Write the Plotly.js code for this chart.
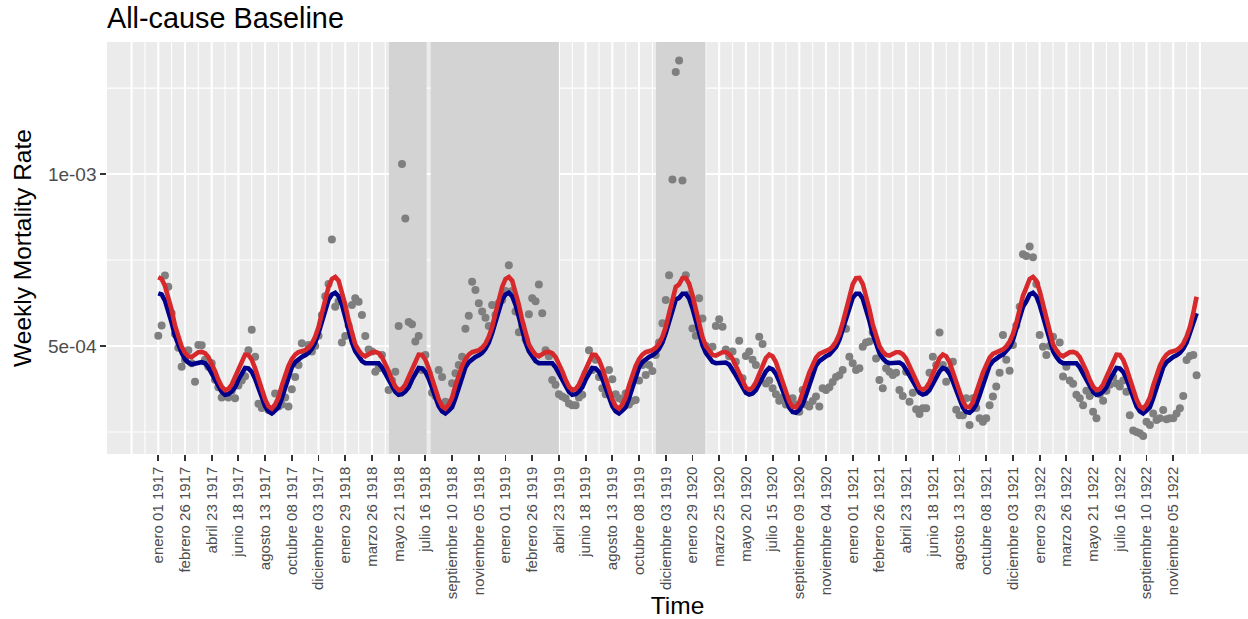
<!DOCTYPE html>
<html>
<head>
<meta charset="utf-8">
<script src="https://cdn.plot.ly/plotly-3.0.1.min.js"></script>
<style>
  html, body { margin: 0; padding: 0; background: #ffffff; }
  #chart { width: 1248px; height: 619px; }
</style>
</head>
<body>
<div id="chart"></div>
<script>
// ---- Data (weekly mortality rate, in units of 1e-4) ----
const UNIT = 1e-4;

// observed weekly rates (grey points), 52 weeks per year
const obs1917 = [5.3, 5.6, 7.05, 6.72, 5.95, 5.35, 4.95, 4.4, 4.6, 4.88, 4.5, 3.96, 5.03, 5.02, 4.6, 4.4, 4.5, 4.02, 3.8, 3.5, 3.55, 3.5, 3.7, 3.48, 3.85, 4.0, 4.12, 4.88, 5.47, 4.69, 3.32, 3.2, 3.25, 3.14, 3.1, 3.62, 3.24, 3.3, 3.5, 3.24, 3.74, 4.1, 4.45, 5.08, 4.8, 5.03, 4.84, 5.0, 5.3, 5.9, 6.45, 6.8];
const obs1918 = [8.1, 6.14, 6.3, 5.1, 5.29, 5.6, 6.19, 6.39, 6.29, 5.9, 5.29, 4.9, 4.84, 4.25, 4.35, 4.74, 4.3, 3.72, 4.0, 4.25, 5.58, 10.29, 8.71, 5.7, 5.63, 5.13, 5.29, 4.3, 4.74, 4.2, 3.64, 3.55, 4.3, 4.1, 3.38, 3.3, 3.92, 4.21, 4.45, 4.69, 5.5, 5.88, 6.87, 6.63, 6.24, 6.0, 5.82, 5.58, 6.19, 5.9, 6.25, 6.34];
const obs1919 = [6.6, 7.35, 6.6, 6.0, 5.4, 5.58, 5.2, 5.92, 6.39, 6.3, 6.79, 5.95, 4.88, 4.7, 4.01, 3.87, 3.6, 3.53, 3.48, 3.33, 3.28, 3.28, 3.5, 3.58, 4.2, 4.88, 4.3, 4.6, 4.1, 3.77, 3.6, 4.3, 4.03, 3.6, 3.48, 3.43, 3.62, 3.3, 3.4, 3.43, 4.0, 4.45, 4.16, 4.45, 4.27, 4.74, 5.1, 5.66, 6.34, 7.06, 9.84, 12.97];
const obs1920 = [13.3, 9.81, 7.06, 6.5, 5.51, 5.3, 6.39, 5.8, 5.0, 4.8, 4.98, 5.58, 5.78, 5.56, 4.9, 4.7, 4.84, 4.54, 5.15, 4.06, 4.71, 4.84, 4.6, 4.45, 5.27, 5.06, 3.91, 4.0, 3.77, 3.6, 3.41, 3.5, 3.3, 3.45, 3.48, 3.3, 3.09, 3.72, 3.3, 3.24, 3.4, 3.53, 3.24, 3.77, 3.72, 3.8, 3.95, 4.1, 4.15, 4.3, 5.5, 4.69];
const obs1921 = [4.5, 4.3, 4.35, 4.98, 5.1, 5.13, 5.4, 4.64, 4.01, 3.77, 4.35, 4.25, 4.16, 4.22, 3.72, 3.55, 4.25, 3.38, 3.64, 3.16, 3.02, 3.19, 3.19, 4.22, 4.69, 4.45, 5.39, 4.45, 3.96, 4.3, 4.54, 3.15, 2.99, 2.99, 3.48, 2.7, 3.48, 3.2, 2.9, 2.8, 2.9, 3.28, 3.53, 3.82, 4.22, 5.32, 4.6, 4.28, 5.03, 5.6, 6.14, 7.67];
const obs1922 = [7.62, 7.89, 7.58, 6.8, 5.32, 4.98, 4.74, 5.0, 5.27, 4.8, 5.1, 4.11, 4.4, 4.0, 3.9, 3.58, 3.48, 3.28, 3.7, 3.55, 3.09, 2.9, 3.6, 3.41, 3.7, 3.87, 4.1, 3.91, 3.82, 4.0, 3.67, 2.99, 2.54, 2.5, 2.46, 2.38, 2.8, 2.7, 3.04, 2.85, 2.9, 3.14, 2.87, 2.9, 2.9, 3.04, 3.19, 3.55, 4.59, 4.71, 4.74, 4.15];

// seasonal baseline (dark blue line)
const base1917 = [6.53, 6.5, 6.32, 6.02, 5.68, 5.3, 5.02, 4.8, 4.62, 4.52, 4.47, 4.48, 4.52, 4.53, 4.5, 4.38, 4.2, 4.03, 3.85, 3.67, 3.58, 3.6, 3.68, 3.8, 4.02, 4.22, 4.36, 4.35, 4.25, 4.05, 3.78, 3.5, 3.25, 3.1, 3.04, 3.12, 3.22, 3.48, 3.78, 4.1, 4.38, 4.53, 4.62, 4.68, 4.73, 4.8, 4.92, 5.1, 5.38, 5.72, 6.05, 6.35];
const base1918 = [6.5, 6.55, 6.45, 6.2, 5.85, 5.45, 5.1, 4.85, 4.68, 4.56, 4.5, 4.5, 4.52, 4.53, 4.5, 4.38, 4.2, 4.03, 3.85, 3.67, 3.58, 3.6, 3.68, 3.8, 4.02, 4.22, 4.36, 4.35, 4.25, 4.05, 3.78, 3.5, 3.25, 3.1, 3.04, 3.12, 3.22, 3.48, 3.78, 4.1, 4.38, 4.53, 4.62, 4.68, 4.73, 4.8, 4.92, 5.1, 5.38, 5.72, 6.05, 6.35];
const base1919 = [6.5, 6.55, 6.45, 6.2, 5.85, 5.45, 5.1, 4.85, 4.68, 4.56, 4.5, 4.5, 4.52, 4.53, 4.5, 4.38, 4.2, 4.03, 3.85, 3.67, 3.58, 3.6, 3.68, 3.8, 4.02, 4.22, 4.36, 4.35, 4.25, 4.05, 3.78, 3.5, 3.25, 3.1, 3.04, 3.12, 3.22, 3.48, 3.78, 4.1, 4.38, 4.53, 4.62, 4.68, 4.73, 4.8, 4.92, 5.1, 5.38, 5.72, 6.05, 6.35];
const base1920 = [6.4, 6.52, 6.52, 6.38, 6.1, 5.73, 5.35, 5.03, 4.8, 4.64, 4.54, 4.5, 4.51, 4.52, 4.52, 4.46, 4.33, 4.15, 3.98, 3.8, 3.64, 3.59, 3.62, 3.72, 3.87, 4.08, 4.26, 4.36, 4.32, 4.19, 3.97, 3.7, 3.43, 3.21, 3.08, 3.06, 3.15, 3.3, 3.57, 3.88, 4.18, 4.43, 4.56, 4.64, 4.7, 4.75, 4.84, 4.97, 5.18, 5.48, 5.82, 6.14];
const base1921 = [6.4, 6.52, 6.52, 6.38, 6.1, 5.73, 5.35, 5.03, 4.8, 4.64, 4.54, 4.5, 4.51, 4.52, 4.52, 4.46, 4.33, 4.15, 3.98, 3.8, 3.64, 3.59, 3.62, 3.72, 3.87, 4.08, 4.26, 4.36, 4.32, 4.19, 3.97, 3.7, 3.43, 3.21, 3.08, 3.06, 3.15, 3.3, 3.57, 3.88, 4.18, 4.43, 4.56, 4.64, 4.7, 4.75, 4.84, 4.97, 5.18, 5.48, 5.82, 6.14];
const base1922 = [6.3, 6.5, 6.55, 6.45, 6.2, 5.85, 5.45, 5.1, 4.85, 4.68, 4.56, 4.5, 4.5, 4.52, 4.53, 4.5, 4.38, 4.2, 4.03, 3.85, 3.67, 3.58, 3.6, 3.68, 3.8, 4.02, 4.22, 4.36, 4.35, 4.25, 4.05, 3.78, 3.5, 3.25, 3.1, 3.04, 3.12, 3.22, 3.48, 3.78, 4.1, 4.38, 4.53, 4.62, 4.68, 4.73, 4.8, 4.92, 5.1, 5.38, 5.68, 5.95];

// upper threshold (red line)
const upper1917 = [7.0, 6.95, 6.75, 6.45, 6.05, 5.6, 5.25, 4.98, 4.8, 4.7, 4.68, 4.74, 4.82, 4.83, 4.79, 4.68, 4.5, 4.27, 4.02, 3.82, 3.72, 3.75, 3.88, 4.1, 4.38, 4.6, 4.75, 4.74, 4.6, 4.35, 4.05, 3.7, 3.45, 3.25, 3.18, 3.3, 3.5, 3.85, 4.15, 4.42, 4.62, 4.75, 4.82, 4.85, 4.88, 4.95, 5.07, 5.27, 5.55, 5.95, 6.35, 6.72];
const upper1918 = [6.95, 7.01, 6.9, 6.6, 6.2, 5.75, 5.35, 5.05, 4.88, 4.75, 4.7, 4.76, 4.82, 4.83, 4.79, 4.68, 4.5, 4.27, 4.02, 3.82, 3.72, 3.75, 3.88, 4.1, 4.38, 4.6, 4.75, 4.74, 4.6, 4.35, 4.05, 3.7, 3.45, 3.25, 3.18, 3.3, 3.5, 3.85, 4.15, 4.42, 4.62, 4.75, 4.82, 4.85, 4.88, 4.95, 5.07, 5.27, 5.55, 5.95, 6.35, 6.72];
const upper1919 = [6.95, 7.01, 6.9, 6.6, 6.2, 5.75, 5.35, 5.05, 4.88, 4.75, 4.7, 4.76, 4.82, 4.83, 4.79, 4.68, 4.5, 4.27, 4.02, 3.82, 3.72, 3.75, 3.88, 4.1, 4.38, 4.6, 4.75, 4.74, 4.6, 4.35, 4.05, 3.7, 3.45, 3.25, 3.18, 3.3, 3.5, 3.85, 4.15, 4.42, 4.62, 4.75, 4.82, 4.85, 4.88, 4.95, 5.07, 5.27, 5.55, 5.95, 6.35, 6.72];
const upper1920 = [6.79, 6.97, 6.98, 6.81, 6.48, 6.07, 5.63, 5.26, 5.0, 4.84, 4.74, 4.72, 4.78, 4.82, 4.82, 4.76, 4.63, 4.43, 4.2, 3.96, 3.79, 3.73, 3.79, 3.95, 4.18, 4.45, 4.65, 4.75, 4.7, 4.53, 4.26, 3.95, 3.63, 3.39, 3.23, 3.22, 3.36, 3.61, 3.94, 4.23, 4.48, 4.66, 4.77, 4.83, 4.86, 4.9, 4.99, 5.13, 5.35, 5.67, 6.07, 6.46];
const upper1921 = [6.79, 6.97, 6.98, 6.81, 6.48, 6.07, 5.63, 5.26, 5.0, 4.84, 4.74, 4.72, 4.78, 4.82, 4.82, 4.76, 4.63, 4.43, 4.2, 3.96, 3.79, 3.73, 3.79, 3.95, 4.18, 4.45, 4.65, 4.75, 4.7, 4.53, 4.26, 3.95, 3.63, 3.39, 3.23, 3.22, 3.36, 3.61, 3.94, 4.23, 4.48, 4.66, 4.77, 4.83, 4.86, 4.9, 4.99, 5.13, 5.35, 5.67, 6.07, 6.46];
const upper1922 = [6.7, 6.95, 7.01, 6.9, 6.6, 6.2, 5.75, 5.35, 5.05, 4.88, 4.75, 4.7, 4.76, 4.82, 4.83, 4.79, 4.68, 4.5, 4.27, 4.02, 3.82, 3.72, 3.75, 3.88, 4.1, 4.38, 4.6, 4.75, 4.74, 4.6, 4.35, 4.05, 3.7, 3.45, 3.25, 3.18, 3.3, 3.5, 3.85, 4.15, 4.42, 4.62, 4.75, 4.82, 4.85, 4.88, 4.95, 5.07, 5.27, 5.55, 5.95, 6.43];

// x tick labels (every 8th week)
const tickLabels = ["enero 01 1917","febrero 26 1917","abril 23 1917","junio 18 1917","agosto 13 1917","octubre 08 1917","diciembre 03 1917","enero 29 1918","marzo 26 1918","mayo 21 1918","julio 16 1918","septiembre 10 1918","noviembre 05 1918","enero 01 1919","febrero 26 1919","abril 23 1919","junio 18 1919","agosto 13 1919","octubre 08 1919","diciembre 03 1919","enero 29 1920","marzo 25 1920","mayo 20 1920","julio 15 1920","septiembre 09 1920","noviembre 04 1920","enero 01 1921","febrero 26 1921","abril 23 1921","junio 18 1921","agosto 13 1921","octubre 08 1921","diciembre 03 1921","enero 29 1922","marzo 26 1922","mayo 21 1922","julio 16 1922","septiembre 10 1922","noviembre 05 1922"];
const TICK_STEP = 8;

// shaded epidemic periods (week index start / end)
const periodStart = [69.1, 81.6, 149.1];
const periodEnd   = [80.4, 120.0, 163.9];

// y-axis ticks
const yTickVals = [5e-4, 1e-3];
const yTickText = ["5e-04", "1e-03"];

// ---- Build ----
const observed = [].concat(obs1917, obs1918, obs1919, obs1920, obs1921, obs1922);
const baseline = [].concat(base1917, base1918, base1919, base1920, base1921, base1922);
const upper = [].concat(upper1917, upper1918, upper1919, upper1920, upper1921, upper1922);
const weeks = observed.map((_, i) => i);
const toRate = v => v * UNIT;

const FONT = '"Liberation Sans", Arial, sans-serif';
const xRange = [-15.36, 326.4];
const yRange = [1.86e-4, 13.84e-4];

const shapes = [];
// background grid (drawn as shapes so the shaded periods can cover it)
[2.5e-4, 7.5e-4, 12.5e-4].forEach(v => shapes.push({type:'line', layer:'below', xref:'paper', yref:'y', x0:0, x1:1, y0:v, y1:v, line:{color:'#FFFFFF', width:1.1}}));
[5e-4, 10e-4].forEach(v => shapes.push({type:'line', layer:'below', xref:'paper', yref:'y', x0:0, x1:1, y0:v, y1:v, line:{color:'#FFFFFF', width:2.1}}));
for (let g = -8; g <= 312; g += TICK_STEP) {
  shapes.push({type:'line', layer:'below', xref:'x', yref:'paper', x0:g, x1:g, y0:0, y1:1, line:{color:'#FFFFFF', width:2.1}});
}
for (let g = -4; g <= 308; g += TICK_STEP) {
  shapes.push({type:'line', layer:'below', xref:'x', yref:'paper', x0:g, x1:g, y0:0, y1:1, line:{color:'#FFFFFF', width:1.1}});
}
periodStart.forEach((s, i) => shapes.push({type:'rect', layer:'below', xref:'x', yref:'paper', x0:s, x1:periodEnd[i], y0:0, y1:1, fillcolor:'#D3D3D3', line:{width:0}}));

const traces = [
  {x: weeks, y: observed.map(toRate), mode:'markers', type:'scatter',
   marker:{color:'#7F7F7F', size:8, line:{width:0}}, hoverinfo:'skip'},
  {x: weeks, y: baseline.map(toRate), mode:'lines', type:'scatter',
   line:{color:'#00008B', width:4.6}, hoverinfo:'skip'},
  {x: weeks, y: upper.map(toRate), mode:'lines', type:'scatter',
   line:{color:'#D7282C', width:4.6}, hoverinfo:'skip'}
];

const layout = {
  width: 1248, height: 619,
  margin: {l:107, r:0, t:42, b:165, pad:0},
  paper_bgcolor: '#FFFFFF',
  plot_bgcolor: '#EBEBEB',
  showlegend: false,
  font: {family: FONT, color:'#000000'},
  title: {text:'All-cause Baseline', font:{family:FONT, size:28.8, color:'#000000'},
          xref:'paper', x:0, xanchor:'left', yref:'container', y:1 - 18/619, yanchor:'middle'},
  xaxis: {
    range: xRange, showgrid:false, zeroline:false, showline:false,
    tickmode:'array', tickvals: tickLabels.map((_, i) => i * TICK_STEP), ticktext: tickLabels,
    tickangle:-90, ticks:'outside', ticklen:5.7, tickwidth:1.9, tickcolor:'#333333',
    tickfont:{family:FONT, size:15, color:'#4D4D4D'},
    title:{text:'Time', font:{family:FONT, size:24.5, color:'#000000'}, standoff:4}
  },
  yaxis: {
    range: yRange, showgrid:false, zeroline:false, showline:false,
    tickmode:'array', tickvals: yTickVals, ticktext: yTickText,
    ticks:'outside', ticklen:5.7, tickwidth:1.9, tickcolor:'#333333',
    tickfont:{family:FONT, size:19, color:'#4D4D4D'},
    title:{text:'Weekly Mortality Rate', font:{family:FONT, size:24.5, color:'#000000'}, standoff:9}
  },
  shapes: shapes
};

Plotly.newPlot('chart', traces, layout, {displayModeBar:false, staticPlot:true});
</script>
</body>
</html>
